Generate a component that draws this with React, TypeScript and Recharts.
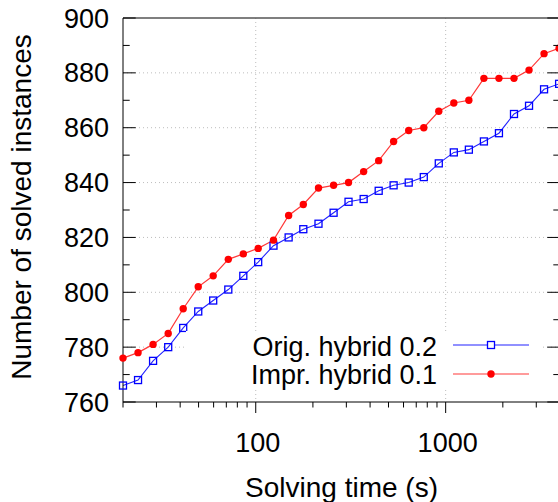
import { CartesianGrid, Legend, Line, LineChart, ReferenceLine, XAxis, YAxis } from "recharts";

// solving time (s), one sample per step on the log axis
const solveTimes = [
  20, 24, 28.8, 34.6, 41.5, 49.8, 59.7, 71.7, 86, 103, 124, 149, 178, 214, 257,
  308, 370, 444, 532, 639, 767, 920, 1104, 1325, 1590, 1908, 2290, 2748, 3297, 3957
];
const origHybrid02 = [
  766, 768, 775, 780, 787, 793, 797, 801, 806, 811, 817, 820, 823, 825, 829,
  833, 834, 837, 839, 840, 842, 847, 851, 852, 855, 858, 865, 868, 874, 876
];
const imprHybrid01 = [
  776, 778, 781, 785, 794, 802, 806, 812, 814, 816, 819, 828, 832, 838, 839,
  840, 844, 848, 855, 859, 860, 866, 869, 870, 878, 878, 878, 881, 887, 889
];
const seriesNames = ["Orig. hybrid 0.2", "Impr. hybrid 0.1"];

const xTicks = [20, 30, 40, 50, 60, 70, 80, 90, 100, 200, 300, 400, 500, 600, 700, 800, 900, 1000, 2000, 3000, 4000];
const xLabelled = [100, 1000];
const yTicks = [760, 770, 780, 790, 800, 810, 820, 830, 840, 850, 860, 870, 880, 890, 900];
const yGrid = [780, 800, 820, 840, 860, 880];
const xGrid = [100, 1000];

const data = solveTimes.map((t, i) => ({ t, orig: origHybrid02[i], impr: imprHybrid01[i] }));

const font = '"Liberation Sans", Arial, Helvetica, sans-serif';
const blue = "#0000ff";
const red = "#ff0000";

const chartW = 560;
const yAxisW = 123;
const plotW = chartW - yAxisW;

function XTick(props: any) {
  const { x, y, payload } = props;
  const major = xLabelled.includes(payload.value);
  return (
    <g>
      <line x1={x} x2={x} y1={y} y2={y + (major ? 11 : 5.5)} stroke="#000" />
      {major && (
        <text x={x + 2} y={y + 50} textAnchor="middle" fontSize={27} fontFamily={font} fill="#000">
          {payload.value}
        </text>
      )}
    </g>
  );
}

// left ticks point inward, and are mirrored on the right frame
function YTick(props: any) {
  const { x, y, payload } = props;
  const major = payload.value % 20 === 0;
  const len = major ? 12.7 : 6.7;
  const xr = x + plotW;
  return (
    <g>
      <line x1={x} x2={x + len} y1={y} y2={y} stroke="#000" />
      <line x1={xr} x2={xr - len} y1={y} y2={y} stroke="#000" />
      {major && (
        <text x={x - 14} y={y + 9.5} textAnchor="end" fontSize={27} fontFamily={font} fill="#000">
          {payload.value}
        </text>
      )}
    </g>
  );
}

function SquareDot(props: any) {
  const { cx, cy } = props;
  if (cx == null || cy == null) return null;
  return <rect x={cx - 3.5} y={cy - 3.5} width={7} height={7} fill="none" stroke={blue} strokeWidth={1.3} />;
}

function RoundDot(props: any) {
  const { cx, cy } = props;
  if (cx == null || cy == null) return null;
  return <circle cx={cx} cy={cy} r={3.7} fill={red} stroke="none" />;
}

function XTitle(props: any) {
  const { x, y, width } = props.viewBox;
  return (
    <text x={x + width / 2} y={y + 94.5} textAnchor="middle" fontSize={28} fontFamily={font} fill="#000">
      Solving time (s)
    </text>
  );
}

function YTitle(props: any) {
  const { y, height } = props.viewBox;
  const cx = 30.5;
  const cy = y + height / 2 - 3;
  return (
    <text
      x={cx}
      y={cy}
      transform={`rotate(-90, ${cx}, ${cy})`}
      textAnchor="middle"
      fontSize={28}
      fontFamily={font}
      fill="#000"
    >
      Number of solved instances
    </text>
  );
}

function KeyBox() {
  const rows = [
    { name: seriesNames[0], line: "#2222ff", square: true },
    { name: seriesNames[1], line: "#ff3838", square: false }
  ];
  return (
    <div style={{ background: "#fff", width: 355, fontFamily: font, fontSize: 27, color: "#000" }}>
      {rows.map((r) => (
        <div key={r.name} style={{ display: "flex", alignItems: "center", height: 28.4 }}>
          <span
            style={{
              width: 251,
              textAlign: "right",
              lineHeight: "28.4px",
              whiteSpace: "nowrap",
              position: "relative",
              top: 1.5
            }}
          >
            {r.name}
          </span>
          <svg width={76} height={28} style={{ marginLeft: 16, display: "block" }}>
            <line x1={0} x2={76} y1={14} y2={14} stroke={r.line} strokeWidth={1.2} />
            {r.square ? (
              <rect x={34.5} y={10.5} width={7} height={7} fill="#fff" stroke={blue} strokeWidth={1.3} />
            ) : (
              <circle cx={38} cy={14} r={3.7} fill={red} />
            )}
          </svg>
        </div>
      ))}
    </div>
  );
}

export default function App() {
  return (
    <div style={{ position: "absolute", left: 0, top: 0, width: 558, height: 502, overflow: "hidden", background: "#fff" }}>
      <LineChart width={chartW} height={502} data={data} margin={{ top: 18, right: 0, bottom: 40, left: 0 }}>
        <CartesianGrid
          horizontal
          vertical
          horizontalValues={yGrid}
          verticalValues={xGrid}
          stroke="#bdbdbd"
          strokeDasharray="1 3"
        />
        <XAxis
          dataKey="t"
          type="number"
          scale="log"
          domain={[20, 4000]}
          ticks={xTicks}
          interval={0}
          tickSize={0}
          tickMargin={0}
          tickLine={false}
          tick={<XTick />}
          height={60}
          axisLine={{ stroke: "#000" }}
          label={{ content: (p: any) => <XTitle {...p} /> }}
        />
        <YAxis
          type="number"
          domain={[760, 900]}
          ticks={yTicks}
          interval={0}
          tickSize={0}
          tickMargin={0}
          tickLine={false}
          tick={<YTick />}
          width={yAxisW}
          axisLine={{ stroke: "#000" }}
          label={{ content: (p: any) => <YTitle {...p} /> }}
        />
        <ReferenceLine y={900} stroke="#555" strokeWidth={1.5} />
        <Line
          dataKey="orig"
          name={seriesNames[0]}
          type="linear"
          stroke="#2222ff"
          strokeWidth={1.1}
          dot={<SquareDot />}
          isAnimationActive={false}
        />
        <Line
          dataKey="impr"
          name={seriesNames[1]}
          type="linear"
          stroke="#ff3838"
          strokeWidth={1.2}
          dot={<RoundDot />}
          isAnimationActive={false}
        />
        <Legend
          layout="vertical"
          align="center"
          verticalAlign="middle"
          content={<KeyBox />}
          wrapperStyle={{ position: "absolute", left: 186, top: 331, width: 355, height: 57, margin: 0, padding: 0 }}
        />
      </LineChart>
    </div>
  );
}
